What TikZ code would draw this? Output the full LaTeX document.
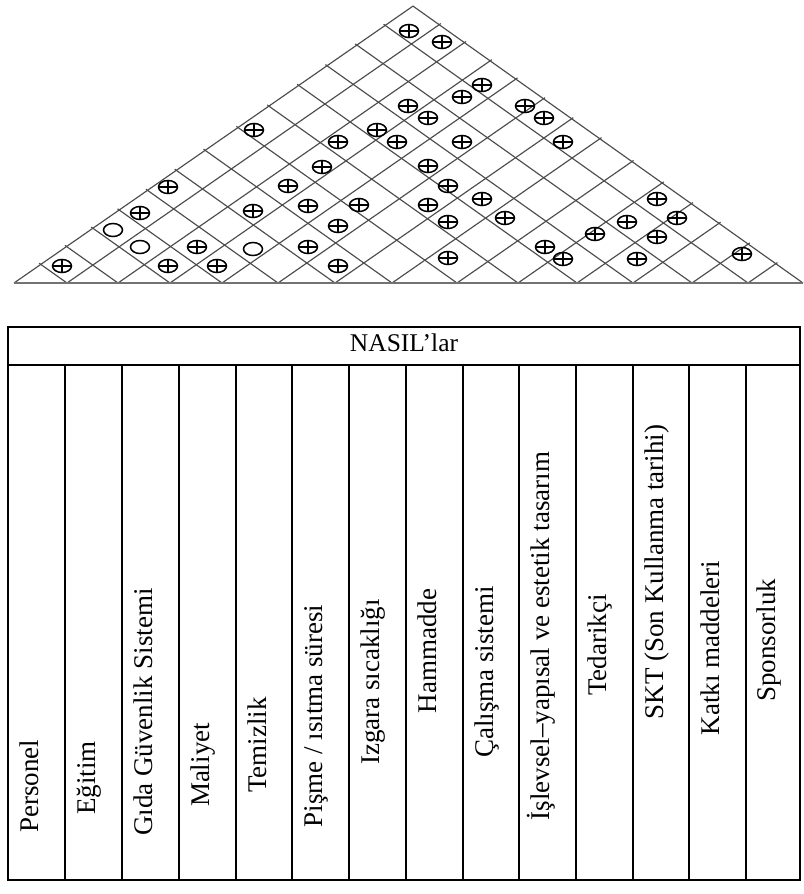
\documentclass[tikz,border=0pt]{standalone}
\usepackage{fontspec}
\setmainfont{Liberation Serif}
\usetikzlibrary{shapes.geometric}
\begin{document}
\begin{tikzpicture}[x=1pt,y=-1pt,
  gridline/.style={draw=black!70, line width=1.15pt},
  roofbase/.style={draw=black!55, line width=1.9pt},
  tabline/.style={draw=black, line width=1.5pt},
  relsym/.style={draw=black, line width=1.5pt, ellipse, inner sep=0pt,
    minimum width=19pt, minimum height=13pt},
  strong/.style={relsym, path picture={
    \draw[line width=1.5pt] (path picture bounding box.north) -- (path picture bounding box.south)
      (path picture bounding box.west) -- (path picture bounding box.east);}},
  medium/.style={relsym},
  headtext/.style={font=\fontsize{25.5}{30}\selectfont, inner sep=0pt, anchor=base},
  collabel/.style={rotate=90, anchor=mid, inner sep=0pt,
    font=\fontsize{27}{32}\selectfont}
]
\useasboundingbox (0,0) rectangle (803,894);

% ---------- correlation roof ----------
\def\sL{0.694}% slope of lines parallel to the left side
\def\sR{0.710}% slope of lines parallel to the right side
\coordinate (roofL) at (14,283);
\coordinate (roofR) at (803,283);
\coordinate (roofT) at (413,6.1);
\foreach \b [count=\k] in {67,118,170,222,278,335,392,457,518,577,633,692,748}{
  \coordinate (b\k) at (\b,283);
  \pgfmathsetmacro{\xr}{(\sL*\b+\sR*803)/(\sL+\sR)}
  \pgfmathsetmacro{\yr}{283-\sL*(\xr-\b)}
  \pgfmathsetmacro{\xl}{(\sR*\b+\sL*14)/(\sL+\sR)}
  \pgfmathsetmacro{\yl}{283-\sR*(\b-\xl)}
  \coordinate (ur\k) at (\xr,\yr);
  \coordinate (ul\k) at (\xl,\yl);
  \draw[gridline, shorten >=-2pt] (b\k) -- (ur\k);
  \draw[gridline, shorten >=-2pt] (b\k) -- (ul\k);
}
\draw[gridline] (roofL) -- (roofT) -- (roofR);
\draw[roofbase] (roofL) -- (roofR);

% strong relationships
\foreach \px/\py [count=\n] in {
  409/31, 442/42, 482/85, 462/97, 408/106, 428/118, 525/106, 544/118,
  254/130, 377/130, 338/142, 397/142, 462/142, 563/142, 322/167, 428/166,
  168/187, 288/186, 448/186, 482/199, 657/199, 140/213, 253/211, 308/206,
  359/205, 428/205, 505/218, 677/218, 338/226, 448/222, 627/222, 595/234,
  657/237, 197/247, 308/247, 545/247, 742/254, 62/266, 168/266, 217/266,
  338/266, 448/258, 563/259, 637/259}{
  \node[strong] (s\n) at (\px,\py) {};
}
% medium relationships
\node[medium] (m1) at (113,230) {};
\node[medium] (m2) at (140,247) {};
\node[medium] (m3) at (253,249) {};

% ---------- technical requirements table ----------
\draw[tabline] (8,327) rectangle (800,880);
\draw[tabline] (8,365) -- (800,365);
\foreach \v in {65,122,179,236,292,349,406,463,519,576,633,689,746}{
  \draw[tabline] (\v,365) -- (\v,880);
}
\node[headtext] (head) at (404,351) {NASIL’lar};

\node[collabel] (lab1)  at (36.5,786)  {Personel};
\node[collabel] (lab2)  at (93.5,778)  {Eğitim};
\node[collabel] (lab3)  at (150.5,712) {Gıda Güvenlik Sistemi};
\node[collabel] (lab4)  at (207.5,765) {Maliyet};
\node[collabel] (lab5)  at (264,745)   {Temizlik};
\node[collabel] (lab6)  at (320.5,716) {Pişme / ısıtma süresi};
\node[collabel] (lab7)  at (377.5,682) {Izgara sıcaklığı};
\node[collabel] (lab8)  at (434.5,651) {Hammadde};
\node[collabel] (lab9)  at (491,672)   {Çalışma sistemi};
\node[collabel] (lab10) at (547.5,636) {İşlevsel–yapısal ve estetik tasarım};
\node[collabel] (lab11) at (604.5,645) {Tedarikçi};
\node[collabel] (lab12) at (661,572)   {SKT (Son Kullanma tarihi)};
\node[collabel] (lab13) at (717.5,648) {Katkı maddeleri};
\node[collabel] (lab14) at (773,640)   {Sponsorluk};
\end{tikzpicture}
\end{document}
